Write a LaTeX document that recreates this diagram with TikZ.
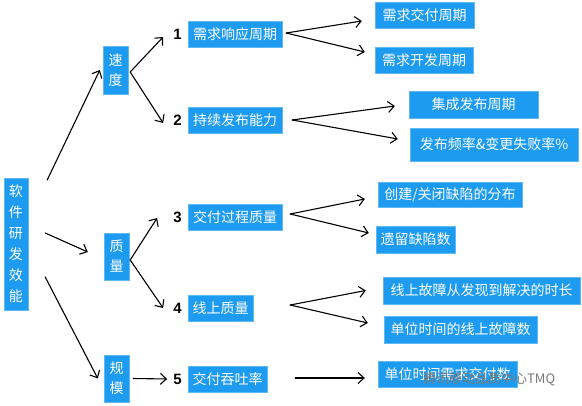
\documentclass[tikz,border=0pt]{standalone}
\usepackage{fontspec}
\setmainfont{Liberation Sans}
\newfontfamily\cjk{Noto Sans CJK SC}
\usetikzlibrary{arrows.meta,calc}
\definecolor{boxblue}{RGB}{29,155,240}
\definecolor{wmgray}{RGB}{120,120,120}
\tikzset{
  bluebox/.style={fill=boxblue,text=white,font=\cjk\fontsize{14}{21}\selectfont,inner sep=0pt,align=center,draw=boxblue!70!white,line width=0.4pt},
  numlabel/.style={font=\bfseries\fontsize{15}{15}\selectfont,text=black,inner sep=0pt},
  arr/.style={draw=black,line width=1.1pt,line cap=round,-{Straight Barb[length=6pt,width=11pt,line width=1.1pt]}}
}
\begin{document}
\begin{tikzpicture}[x=1pt,y=-1pt]
\useasboundingbox (0,0) rectangle (582,406);
% root
\node[bluebox,minimum width=24pt,minimum height=132pt] (main) at (16,244) {软\\件\\研\\发\\效\\能};
% level 1
\node[bluebox,minimum width=25pt,minimum height=48pt,font=\cjk\fontsize{14}{20}\selectfont] (sd) at (115.5,70) {速\\度};
\node[bluebox,minimum width=25pt,minimum height=47pt,font=\cjk\fontsize{14}{20}\selectfont] (zl) at (116.5,256.5) {质\\量};
\node[bluebox,minimum width=25pt,minimum height=47pt,font=\cjk\fontsize{14}{20}\selectfont] (gm) at (116.5,378.5) {规\\模};
% level 2 numbers
\node[numlabel] (l1) at (177.5,34) {1};
\node[numlabel] (l2) at (177.5,120) {2};
\node[numlabel] (l3) at (177.5,217) {3};
\node[numlabel] (l4) at (177.5,308) {4};
\node[numlabel] (l5) at (177.5,379) {5};
% level 2 boxes
\node[bluebox,minimum width=94pt,minimum height=26pt] (b1) at (235,34) {需求响应周期};
\node[bluebox,minimum width=94pt,minimum height=26pt] (b2) at (235,120) {持续发布能力};
\node[bluebox,minimum width=94pt,minimum height=26pt] (b3) at (235,217) {交付过程质量};
\node[bluebox,minimum width=65pt,minimum height=26pt] (b4) at (220.5,308) {线上质量};
\node[bluebox,minimum width=79pt,minimum height=26pt] (b5) at (227.5,379) {交付吞吐率};
% level 3 boxes
\node[bluebox,minimum width=99pt,minimum height=26pt] (r11) at (424.5,15) {需求交付周期};
\node[bluebox,minimum width=98pt,minimum height=26pt] (r12) at (424,60) {需求开发周期};
\node[bluebox,minimum width=129pt,minimum height=27pt] (r21) at (473.5,104.5) {集成发布周期};
\node[bluebox,minimum width=168pt,minimum height=33pt] (r22) at (494,144.5) {发布频率\&变更失败率\%};
\node[bluebox,minimum width=144pt,minimum height=25pt] (r31) at (450,194.5) {创建/关闭缺陷的分布};
\node[bluebox,minimum width=79pt,minimum height=27pt] (r32) at (415.5,239.5) {遗留缺陷数};
\node[bluebox,minimum width=197pt,minimum height=27pt] (r41) at (481.5,290.5) {线上故障从发现到解决的时长};
\node[bluebox,minimum width=153pt,minimum height=27pt] (r42) at (460.5,329.5) {单位时间的线上故障数};
\node[bluebox,minimum width=139pt,minimum height=26pt] (r51) at (447.5,374) {单位时间需求交付数};
% watermark
\node[font=\cjk\fontsize{13}{13}\selectfont,text=wmgray,inner sep=0pt,anchor=west] (wm) at (423,379) {腾讯移动品质中心TMQ};
% arrows root
\draw[arr] ($(main.east)+(19,-64)$) -- ($(sd.west)+(-3,0)$);
\draw[arr] ($(main.east)+(17,-11)$) -- ($(zl.west)+(-16,-4.5)$);
\draw[arr] ($(main.east)+(17,33)$) -- ($(gm.west)+(-6,0)$);
% level1 -> level2
\draw[arr] ($(sd.east)+(2,2)$) -- ($(l1.west)+(-10,3)$);
\draw[arr] ($(sd.east)+(2,2)$) -- ($(l2.west)+(-10,3)$);
\draw[arr] ($(zl.east)+(1,3.5)$) -- ($(l3.west)+(-16,1)$);
\draw[arr] ($(zl.east)+(1,3.5)$) -- ($(l4.west)+(-10,0)$);
\draw[arr] ($(gm.east)+(4,0)$) -- ($(l5.west)+(-6,0)$);
% level2 -> level3
\draw[arr] ($(b1.east)+(4,-1)$) -- ($(r11.west)+(-13,6)$);
\draw[arr] ($(b1.east)+(4,-1)$) -- ($(r12.west)+(-10,-8)$);
\draw[arr] ($(b2.east)+(10,0)$) -- ($(r21.west)+(-14,1.5)$);
\draw[arr] ($(b2.east)+(10,0)$) -- ($(r22.west)+(-12,-5.5)$);
\draw[arr] ($(b3.east)+(8,-3)$) -- ($(r31.west)+(-13,4.5)$);
\draw[arr] ($(b3.east)+(8,-3)$) -- ($(r32.west)+(-7,-6.5)$);
\draw[arr] ($(b4.east)+(37,-3)$) -- ($(r41.west)+(-17,0)$);
\draw[arr] ($(b4.east)+(37,-3)$) -- ($(r42.west)+(-16,-6.5)$);
\draw[arr] ($(b5.east)+(28,-1)$) -- ($(r51.west)+(-13,4)$);
\end{tikzpicture}
\end{document}
